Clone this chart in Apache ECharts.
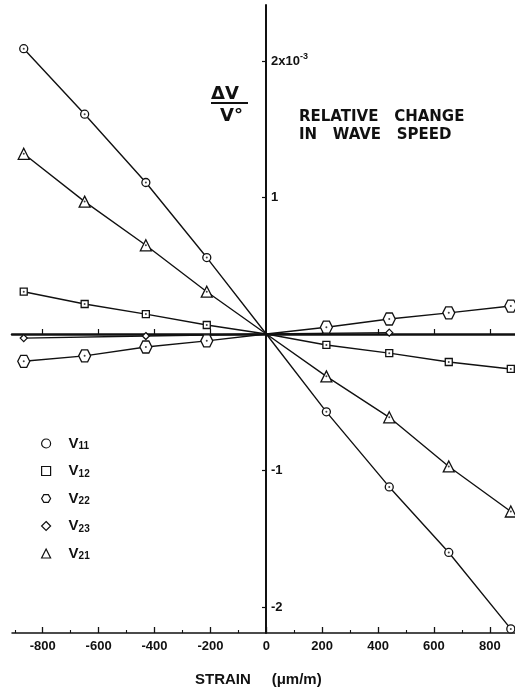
<!DOCTYPE html>
<html>
<head>
<meta charset="utf-8">
<script src="https://cdn.jsdelivr.net/npm/echarts@6/dist/echarts.min.js"></script>
<style>
  html, body { margin: 0; padding: 0; background: #fff; }
  #chart { width: 515px; height: 692px; }
</style>
</head>
<body>
<div id="chart"></div>
<script>
// strain (micro m/m) at which each speed was measured
const strain = [-868, -650, -431, -213, 0, 215, 440, 653, 875];

// relative change in wave speed, units of 1e-3
const v11 = [2.09, 1.61, 1.11, 0.56, 0, -0.57, -1.12, -1.60, -2.16];
const v12 = [0.31, 0.22, 0.146, 0.066, 0, -0.08, -0.14, -0.205, -0.256];
const v22 = [-0.20, -0.16, -0.095, -0.05, 0, 0.05, 0.11, 0.155, 0.205];
const v23 = [-0.03, null, -0.015, null, 0, null, 0.01, null, null];
const v21 = [1.32, 0.97, 0.65, 0.31, 0, -0.31, -0.61, -0.97, -1.30];

const xTicks = [-800, -600, -400, -200, 0, 200, 400, 600, 800];
const xMinorTicks = [-900, -700, -500, -300, -100, 100, 300, 500, 700];
const yTicks = [-2, -1, 1, 2];

const ink = '#111';
const hexagon = 'path://M-1,0L-0.5,-0.866L0.5,-0.866L1,0L0.5,0.866L-0.5,0.866Z';

const chart = echarts.init(document.getElementById('chart'));

const makeSeries = (name, vals, symbol, size) => ({
  name: name,
  type: 'line',
  xAxisIndex: 0,
  symbol: symbol,
  symbolSize: size,
  showAllSymbol: true,
  connectNulls: true,
  data: strain.map((x, i) => [x, vals[i]])
    .filter(d => d[1] !== null)
    .map(d => d[0] === 0 ? { value: d, symbol: 'none' } : d),
  lineStyle: { color: ink, width: 1.4 },
  itemStyle: { color: '#fff', borderColor: ink, borderWidth: 1.3 },
  emphasis: { disabled: true },
  z: 3
});

// small dot at the centre of most markers
const dotData = [];
[v11, v12, v22, v21].forEach(vals => {
  strain.forEach((x, i) => {
    if (x !== 0) dotData.push([x, vals[i]]);
  });
});

const option = {
  animation: false,
  backgroundColor: '#fff',
  grid: { left: 12, right: 0, top: 5, bottom: 59 },
  xAxis: [
    {
      type: 'value', position: 'bottom', min: -910, max: 890,
      axisLine: { onZero: false, lineStyle: { color: ink, width: 1.5 } },
      axisTick: { inside: true, length: 6, customValues: xTicks, lineStyle: { color: ink, width: 1.3 } },
      axisLabel: {
        customValues: xTicks, margin: 7, color: ink,
        fontFamily: 'Liberation Sans', fontWeight: 'bold', fontSize: 13
      },
      splitLine: { show: false }
    },
    {
      // the heavy zero line across the plot
      type: 'value', position: 'bottom', min: -910, max: 890,
      axisLine: { onZero: true, lineStyle: { color: ink, width: 2.5 } },
      axisTick: { inside: true, length: 5, customValues: [-800, -600, -400, -200, 200, 400, 600, 800], lineStyle: { color: ink, width: 1.2 } },
      axisLabel: { show: false },
      splitLine: { show: false }
    },
    {
      // minor ticks on the bottom axis
      type: 'value', position: 'bottom', min: -910, max: 890,
      axisLine: { show: false, onZero: false },
      axisTick: { inside: true, length: 3, customValues: xMinorTicks, lineStyle: { color: ink, width: 1.1 } },
      axisLabel: { show: false },
      splitLine: { show: false }
    }
  ],
  yAxis: {
    // shifted right onto strain = 0
    type: 'value', min: -2.19, max: 2.41, position: 'left', offset: -254,
    axisLine: { onZero: false, lineStyle: { color: ink, width: 2 } },
    axisTick: { length: 4, customValues: yTicks, lineStyle: { color: ink, width: 1.2 } },
    axisLabel: {
      inside: true, customValues: yTicks, margin: 5, color: ink,
      fontFamily: 'Liberation Sans', fontWeight: 'bold', fontSize: 13,
      formatter: v => v === 2 ? '{n|2x10}{p|-3}' : String(v),
      rich: {
        n: { fontFamily: 'Liberation Sans', fontWeight: 'bold', fontSize: 13, color: ink },
        p: { fontFamily: 'Liberation Sans', fontWeight: 'bold', fontSize: 9, color: ink, padding: [0, 0, 8, 0] }
      }
    },
    splitLine: { show: false }
  },
  legend: {
    orient: 'vertical', left: 36, top: 431,
    itemWidth: 9, itemHeight: 9, itemGap: 12,
    selectedMode: false,
    itemStyle: { color: '#fff', borderColor: ink, borderWidth: 1.2 },
    data: [
      { name: 'V11', icon: 'circle' },
      { name: 'V12', icon: 'rect' },
      { name: 'V22', icon: hexagon },
      { name: 'V23', icon: 'diamond' },
      { name: 'V21', icon: 'triangle' }
    ],
    formatter: name => '{v|V}{s|' + name.slice(1) + '}',
    textStyle: {
      padding: [0, 0, 0, 13],
      rich: {
        v: { fontFamily: 'Liberation Sans', fontWeight: 'bold', fontSize: 15, color: ink },
        s: { fontFamily: 'Liberation Sans', fontWeight: 'bold', fontSize: 10, color: ink, padding: [6, 0, 0, 0] }
      }
    }
  },
  graphic: [
    { type: 'text', left: 211, top: 85, style: { text: 'ΔV', font: 'bold 18px "DejaVu Sans"', fill: ink } },
    { type: 'line', shape: { x1: 211, y1: 103, x2: 248, y2: 103 }, style: { stroke: ink, lineWidth: 2 } },
    { type: 'text', left: 220, top: 107, style: { text: 'V°', font: 'bold 18px "DejaVu Sans"', fill: ink } },
    {
      type: 'text', left: 299, top: 108,
      style: { text: 'RELATIVE   CHANGE\nIN   WAVE   SPEED', font: 'bold 15px "DejaVu Sans"', lineHeight: 18, fill: ink }
    },
    {
      type: 'text', left: 195, top: 672,
      style: { text: 'STRAIN     (μm/m)', font: 'bold 15px "Liberation Sans"', fill: ink }
    }
  ],
  series: [
    makeSeries('V11', v11, 'circle', 8),
    makeSeries('V12', v12, 'rect', 7),
    makeSeries('V22', v22, hexagon, 12),
    makeSeries('V23', v23, 'diamond', 7),
    makeSeries('V21', v21, 'triangle', 11),
    {
      name: 'dots', type: 'scatter', symbol: 'circle', symbolSize: 2,
      data: dotData, itemStyle: { color: ink }, silent: true, z: 4
    }
  ]
};

chart.setOption(option);
</script>
</body>
</html>
